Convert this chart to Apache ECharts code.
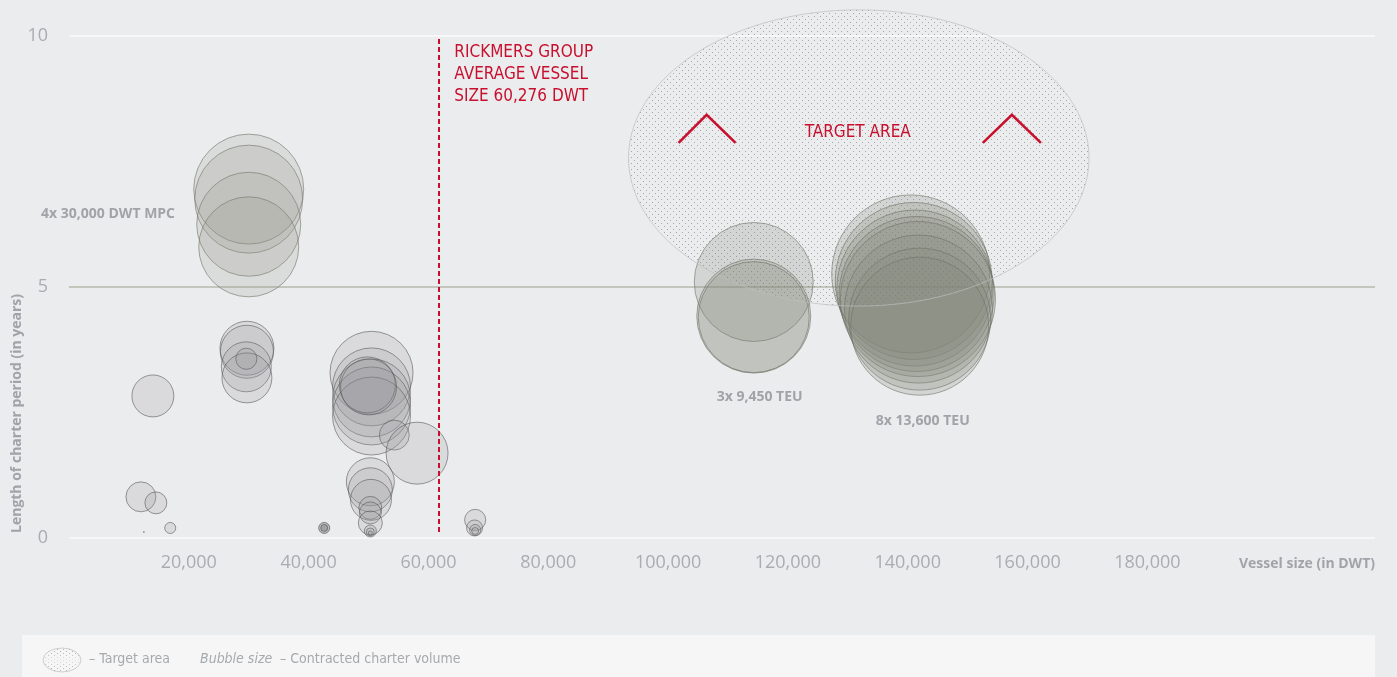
<!DOCTYPE html>
<html>
<head>
<meta charset="utf-8">
<script src="https://cdn.jsdelivr.net/npm/echarts@6/dist/echarts.min.js"></script>
<style>
html,body{margin:0;padding:0;background:#ebecee;}
#chart{width:1397px;height:677px;}
</style>
</head>
<body>
<div id="chart"></div>
<script>
// ---------- DATA ----------
// x = vessel size (DWT), y = charter period (years), v = contracted charter volume (relative)
const mpc30k      = [[30000,6.95,756],[30000,6.75,729],[30000,6.25,676],[30000,5.80,625]];
const handySize   = [[14000,2.83,110],[12000,0.82,56],[14500,0.70,30],[16900,0.20,7.6],[12500,0.12,0.06]];
const size30k     = [[29700,3.78,182],[29700,3.71,176],[29600,3.41,156],[29700,3.19,156],[29600,3.57,28]];
const size42k     = [[42600,0.20,7.6],[42600,0.20,3]];
const size50k     = [[50500,3.29,431],[50500,3.01,380],[50500,2.79,380],[50500,2.63,380],[50500,2.43,380],[49800,3.05,196],[50000,3.01,196]];
const size55to58k = [[54300,2.05,56],[58100,1.69,240]];
const size50kShort= [[50300,1.12,144],[50300,0.96,121],[50400,0.76,105],[50300,0.60,33],[50300,0.50,30],[50300,0.30,36],[50300,0.14,9],[50300,0.12,4],[50300,0.10,1]];
const size68k     = [[67800,0.36,28],[67700,0.20,16],[67800,0.16,7.6],[67800,0.14,3]];
const teu9450     = [[114300,5.10,885],[114300,4.42,812],[114300,4.40,770]];
const teu13600    = [[140500,5.26,1560],[141000,5.12,1540],[141200,4.98,1521],[141500,4.86,1502],[141700,4.76,1502],[141800,4.56,1369],[142000,4.36,1260],[142000,4.22,1190]];

const avgVesselLineX = 61800;            // position of the dashed average line as drawn
const targetArea = [[131830, 7.57, 38430, 2.95]]; // centre x, centre y, radius x, radius y
const chevrons = [[101750,7.87,106430,8.43,111270,7.87],[152540,7.87,157390,8.43,162230,7.87]];

const xTickLabels = [20000,40000,60000,80000,100000,120000,140000,160000,180000];
const yTickLabels = [0,5,10];

const annotations = [
  {text:'4x 30,000 DWT MPC', x:17700, y:6.45, align:'right', kind:'grey'},
  {text:'3x 9,450 TEU', x:115290, y:2.81, align:'center', kind:'grey'},
  {text:'8x 13,600 TEU', x:142520, y:2.33, align:'center', kind:'grey'},
  {text:'TARGET AREA', x:131660, y:8.08, align:'center', kind:'red'},
  {text:'RICKMERS GROUP\nAVERAGE VESSEL\nSIZE 60,276 DWT', x:64320, y:9.24, align:'left', kind:'redBlock'}
];

// ---------- STYLES ----------
const RED = '#c8102e';
const COND = "'Liberation Sans Narrow','DejaVu Sans Condensed','Open Sans',sans-serif";
const SANS = "'Open Sans','Noto Sans',sans-serif";
const greyBubble  = {color:'rgba(150,152,156,0.25)', borderColor:'rgba(90,90,90,0.75)', borderWidth:1};
const greenBubble = {color:'rgba(128,133,120,0.28)', borderColor:'rgba(110,112,100,0.75)', borderWidth:1};
const mpcBubble   = {color:'rgba(140,143,128,0.22)', borderColor:'rgba(120,122,110,0.8)', borderWidth:1};

function dotPattern(){
  const c=document.createElement('canvas'); c.width=6; c.height=6;
  const g=c.getContext('2d');
  g.fillStyle='rgba(120,120,120,0.6)';
  g.fillRect(1,1,1,1); g.fillRect(4,4,1,1);
  return c;
}
const pat = dotPattern();

const sizeOf = d => Math.sqrt(d[2]) * 4;

function bubbleSeries(name, data, style){
  return {name, type:'scatter', data, symbolSize:sizeOf, itemStyle:style, z:3, silent:true};
}

const chart = echarts.init(document.getElementById('chart'), null, {renderer:'canvas'});

const option = {
  animation:false,
  backgroundColor:'#ebecee',
  textStyle:{fontFamily:SANS},
  grid:{left:69, right:22, top:36, bottom:139, containLabel:false, outerBoundsMode:'none'},
  xAxis:{
    type:'value', min:0, max:218000, interval:20000,
    axisLine:{show:false}, axisTick:{show:false}, splitLine:{show:false},
    axisLabel:{
      color:'#a9adb0', fontSize:18, fontFamily:SANS, margin:16,
      formatter: v => xTickLabels.includes(v) ? v.toLocaleString('en-US') : ''
    },
    name:'Vessel size (in DWT)', nameLocation:'end', nameGap:0,
    nameTextStyle:{color:'#a0a4a8', fontSize:14, fontWeight:'bold', fontFamily:SANS, align:'right', verticalAlign:'top', padding:[19,0,0,0]}
  },
  yAxis:{
    type:'value', min:0, max:10, interval:5,
    axisLine:{show:false}, axisTick:{show:false},
    splitLine:{show:true, lineStyle:{color:['#f7f7f8','#c3c6bc','#f7f7f8'], width:2}},
    axisLabel:{color:'#a9adb0', fontSize:18, fontFamily:SANS, margin:21,
      formatter: v => yTickLabels.includes(v) ? String(v) : ''}
  },
  graphic:[
    {type:'text', x:17, y:533, rotation:Math.PI/2,
     style:{text:'Length of charter period (in years)', fill:'#a0a4a8', font:'bold 14px '+SANS, align:'left', verticalAlign:'middle'}},
    {type:'rect', shape:{x:22, y:635, width:1353, height:42}, style:{fill:'#f6f6f6'}, z:0},
    {type:'circle', x:62, y:660, scaleY:0.63, shape:{cx:0, cy:0, r:19},
     style:{fill:{image:pat, repeat:'repeat'}, stroke:'rgba(185,185,185,0.8)', lineWidth:1}, z:1},
    {type:'text', x:89, y:659, style:{text:'– Target area', fill:'#a6aaad', font:'14px '+COND, verticalAlign:'middle'}, z:1},
    {type:'text', x:200, y:659, style:{text:'Bubble size', fill:'#a6aaad', font:'italic 14px '+COND, verticalAlign:'middle'}, z:1},
    {type:'text', x:280, y:659, style:{text:'– Contracted charter volume', fill:'#a6aaad', font:'14px '+COND, verticalAlign:'middle'}, z:1}
  ],
  series:[
    bubbleSeries('MPC 30k', mpc30k, mpcBubble),
    bubbleSeries('Handy', handySize, greyBubble),
    bubbleSeries('30k', size30k, greyBubble),
    bubbleSeries('42k', size42k, {color:'rgba(120,122,126,0.5)', borderColor:'rgba(80,80,80,0.8)', borderWidth:1}),
    Object.assign(bubbleSeries('50k', size50k, greyBubble), {
      markLine:{silent:true, symbol:['none','none'], label:{show:false},
        lineStyle:{color:RED, type:[5,3], width:2},
        data:[[{coord:[avgVesselLineX,0.12]},{coord:[avgVesselLineX,10]}]]}
    }),
    bubbleSeries('55-58k', size55to58k, greyBubble),
    bubbleSeries('50k short', size50kShort, greyBubble),
    bubbleSeries('68k', size68k, greyBubble),
    bubbleSeries('9,450 TEU', teu9450, greenBubble),
    bubbleSeries('13,600 TEU', teu13600, greenBubble),
    {
      type:'custom', name:'Target area', data:targetArea, z:5, silent:true, clip:false,
      encode:{x:0, y:1},
      renderItem:(params, api) => {
        const cx=api.value(0), cy=api.value(1), rx=api.value(2), ry=api.value(3);
        const pts=[];
        for(let i=0;i<180;i++){const t=i/180*Math.PI*2; pts.push(api.coord([cx+rx*Math.cos(t), cy+ry*Math.sin(t)]));}
        return {type:'polygon', shape:{points:pts},
          style:{fill:{image:pat, repeat:'repeat'}, stroke:'rgba(190,190,190,0.7)', lineWidth:1}};
      }
    },
    {
      type:'custom', name:'Chevrons', data:chevrons, z:6, silent:true, clip:false,
      encode:{x:0, y:1},
      renderItem:(params, api) => ({
        type:'polyline',
        shape:{points:[api.coord([api.value(0),api.value(1)]), api.coord([api.value(2),api.value(3)]), api.coord([api.value(4),api.value(5)])]},
        style:{stroke:RED, lineWidth:2.5, fill:null}
      })
    },
    {
      type:'custom', name:'Annotations', data:annotations.map(a=>[a.x,a.y]), z:7, silent:true, clip:false,
      encode:{x:0, y:1},
      renderItem:(params, api) => {
        const a = annotations[params.dataIndex];
        const p = api.coord([api.value(0), api.value(1)]);
        let style;
        if(a.kind==='grey') style={text:a.text, fill:'#a0a4a8', font:'bold 14px '+SANS, align:a.align, verticalAlign:'middle'};
        else style={text:a.text, fill:RED, font:'17px '+COND, align:a.align, verticalAlign:'middle', lineHeight:22};
        return {type:'text', x:p[0], y:p[1], style};
      }
    }
  ]
};
chart.setOption(option);
</script>
</body>
</html>
